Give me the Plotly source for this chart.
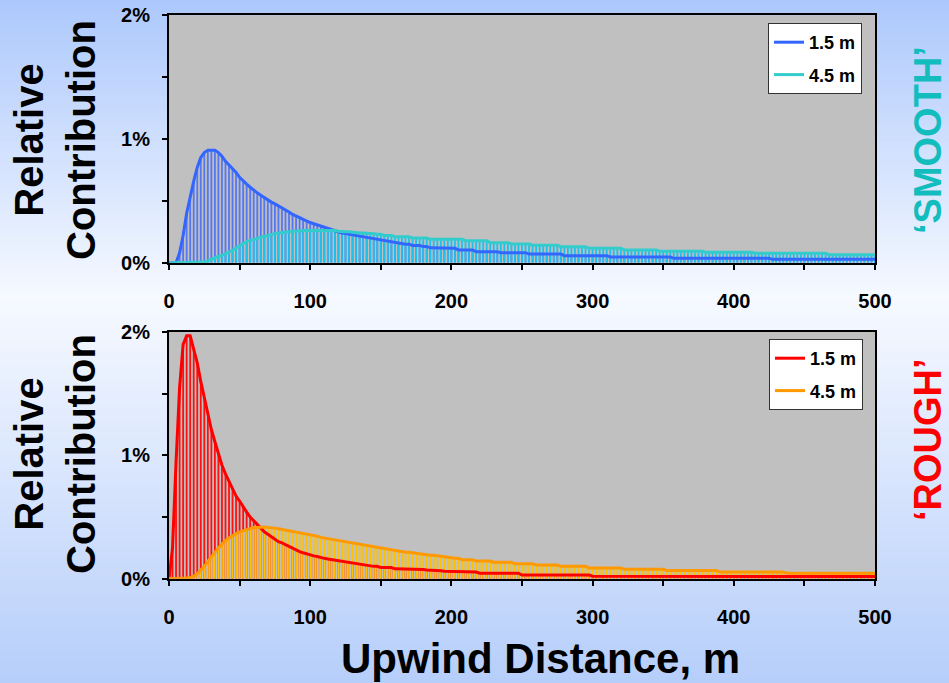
import plotly.graph_objects as go

# ---------------- data (relative contribution, % per 2.5 m bin) ----------------
DIST = [round(i * 2.5, 1) for i in range(201)]

SMOOTH_15 = [
    0, 0, 0, 0.08, 0.22, 0.40, 0.54, 0.66, 0.77, 0.85,
    0.89, 0.91, 0.91, 0.91, 0.89, 0.86, 0.82, 0.79, 0.76, 0.73,
    0.69, 0.66, 0.635, 0.61, 0.585, 0.565, 0.545, 0.525, 0.505, 0.49,
    0.475, 0.46, 0.44, 0.425, 0.41, 0.39, 0.38, 0.365, 0.35, 0.335,
    0.325, 0.315, 0.305, 0.295, 0.285, 0.275, 0.265, 0.255, 0.25, 0.24,
    0.235, 0.23, 0.22, 0.215, 0.21, 0.205, 0.20, 0.195, 0.19, 0.19,
    0.18, 0.18, 0.17, 0.17, 0.16, 0.16, 0.15, 0.15, 0.15, 0.14,
    0.14, 0.14, 0.13, 0.13, 0.12, 0.12, 0.12, 0.12, 0.116, 0.116,
    0.116, 0.116, 0.103, 0.103, 0.103, 0.103, 0.103, 0.089, 0.089, 0.089,
    0.089, 0.089, 0.089, 0.089, 0.081, 0.081, 0.081, 0.081, 0.081, 0.081,
    0.081, 0.081, 0.07, 0.07, 0.07, 0.07, 0.07, 0.07, 0.07, 0.07,
    0.07, 0.07, 0.057, 0.057, 0.057, 0.057, 0.057, 0.057, 0.057, 0.057,
    0.057, 0.057, 0.057, 0.057, 0.057, 0.046, 0.046, 0.046, 0.046, 0.046,
    0.046, 0.046, 0.046, 0.046, 0.046, 0.046, 0.046, 0.046, 0.046, 0.046,
    0.046, 0.046, 0.046, 0.035, 0.035, 0.035, 0.035, 0.035, 0.035, 0.035,
    0.035, 0.035, 0.035, 0.035, 0.035, 0.035, 0.035, 0.035, 0.035, 0.035,
    0.035, 0.035, 0.035, 0.035, 0.035, 0.035, 0.035, 0.035, 0.035, 0.035,
    0.035, 0.027, 0.027, 0.027, 0.027, 0.027, 0.027, 0.027, 0.027, 0.027,
    0.027, 0.027, 0.027, 0.027, 0.027, 0.027, 0.027, 0.027, 0.027, 0.027,
    0.027, 0.027, 0.027, 0.027, 0.027, 0.027, 0.027, 0.027, 0.027, 0.027,
    0.027,
]

SMOOTH_45 = [
    0, 0, 0, 0, 0, 0, 0, 0, 0, 0,
    0.005, 0.015, 0.03, 0.04, 0.05, 0.06, 0.07, 0.085, 0.10, 0.12,
    0.14, 0.155, 0.17, 0.18, 0.19, 0.20, 0.205, 0.215, 0.22, 0.23,
    0.235, 0.24, 0.245, 0.25, 0.25, 0.255, 0.255, 0.26, 0.26, 0.26,
    0.26, 0.265, 0.265, 0.265, 0.265, 0.265, 0.26, 0.26, 0.255, 0.25,
    0.25, 0.25, 0.245, 0.245, 0.24, 0.24, 0.24, 0.235, 0.235, 0.23,
    0.23, 0.22, 0.22, 0.22, 0.21, 0.21, 0.21, 0.21, 0.21, 0.20,
    0.20, 0.20, 0.20, 0.20, 0.19, 0.19, 0.19, 0.19, 0.19, 0.19,
    0.189, 0.189, 0.189, 0.189, 0.178, 0.178, 0.178, 0.178, 0.178, 0.178,
    0.178, 0.162, 0.162, 0.162, 0.162, 0.162, 0.162, 0.151, 0.151, 0.151,
    0.151, 0.151, 0.151, 0.141, 0.141, 0.141, 0.141, 0.141, 0.141, 0.141,
    0.141, 0.129, 0.129, 0.129, 0.129, 0.129, 0.129, 0.129, 0.129, 0.116,
    0.116, 0.116, 0.116, 0.116, 0.116, 0.116, 0.116, 0.116, 0.116, 0.103,
    0.103, 0.103, 0.103, 0.103, 0.103, 0.103, 0.103, 0.103, 0.103, 0.092,
    0.092, 0.092, 0.092, 0.092, 0.092, 0.092, 0.092, 0.092, 0.092, 0.092,
    0.092, 0.092, 0.084, 0.084, 0.084, 0.084, 0.084, 0.084, 0.084, 0.084,
    0.084, 0.084, 0.084, 0.084, 0.084, 0.084, 0.076, 0.076, 0.076, 0.076,
    0.076, 0.076, 0.076, 0.076, 0.076, 0.076, 0.076, 0.076, 0.076, 0.076,
    0.076, 0.076, 0.076, 0.076, 0.076, 0.076, 0.076, 0.065, 0.065, 0.065,
    0.065, 0.065, 0.065, 0.065, 0.065, 0.065, 0.065, 0.065, 0.065, 0.065,
    0.065,
]

ROUGH_15 = [
    0, 0.25, 0.95, 1.55, 1.90, 1.97, 1.97, 1.86, 1.75, 1.60,
    1.46, 1.34, 1.21, 1.11, 1.01, 0.92, 0.85, 0.79, 0.73, 0.67,
    0.63, 0.58, 0.54, 0.50, 0.47, 0.44, 0.41, 0.38, 0.36, 0.34,
    0.32, 0.30, 0.29, 0.275, 0.26, 0.245, 0.23, 0.22, 0.21, 0.20,
    0.19, 0.185, 0.18, 0.17, 0.165, 0.16, 0.155, 0.15, 0.145, 0.14,
    0.135, 0.13, 0.125, 0.12, 0.115, 0.11, 0.11, 0.105, 0.10, 0.10,
    0.09, 0.09, 0.09, 0.09, 0.08, 0.08, 0.08, 0.08, 0.08, 0.08,
    0.08, 0.08, 0.075, 0.07, 0.07, 0.07, 0.07, 0.065, 0.06, 0.06,
    0.057, 0.054, 0.054, 0.054, 0.054, 0.054, 0.054, 0.054, 0.044, 0.044,
    0.044, 0.044, 0.044, 0.044, 0.044, 0.044, 0.044, 0.044, 0.044, 0.044,
    0.03, 0.03, 0.03, 0.03, 0.03, 0.03, 0.03, 0.03, 0.03, 0.03,
    0.03, 0.03, 0.03, 0.03, 0.03, 0.03, 0.03, 0.03, 0.03, 0.03,
    0.02, 0.02, 0.02, 0.02, 0.02, 0.02, 0.02, 0.02, 0.02, 0.02,
    0.02, 0.02, 0.02, 0.02, 0.02, 0.02, 0.02, 0.02, 0.02, 0.02,
    0.02, 0.02, 0.02, 0.02, 0.02, 0.02, 0.02, 0.02, 0.02, 0.02,
    0.02, 0.02, 0.02, 0.02, 0.02, 0.02, 0.02, 0.02, 0.02, 0.02,
    0.02, 0.02, 0.02, 0.02, 0.02, 0.02, 0.02, 0.02, 0.02, 0.02,
    0.02, 0.02, 0.02, 0.02, 0.02, 0.02, 0.02, 0.02, 0.02, 0.02,
    0.018, 0.018, 0.018, 0.018, 0.018, 0.018, 0.018, 0.018, 0.018, 0.018,
    0.018, 0.018, 0.018, 0.018, 0.018, 0.018, 0.018, 0.018, 0.018, 0.018,
    0.018,
]

ROUGH_45 = [
    0, 0, 0, 0, 0, 0.005, 0.01, 0.02, 0.04, 0.07,
    0.10, 0.14, 0.18, 0.22, 0.25, 0.28, 0.31, 0.33, 0.35, 0.365,
    0.38, 0.39, 0.40, 0.41, 0.415, 0.415, 0.42, 0.42, 0.415, 0.415,
    0.41, 0.405, 0.40, 0.395, 0.39, 0.385, 0.38, 0.375, 0.37, 0.365,
    0.36, 0.35, 0.345, 0.335, 0.33, 0.325, 0.32, 0.315, 0.31, 0.305,
    0.30, 0.295, 0.29, 0.285, 0.28, 0.27, 0.265, 0.26, 0.255, 0.25,
    0.245, 0.24, 0.235, 0.235, 0.23, 0.225, 0.22, 0.215, 0.215, 0.21,
    0.205, 0.20, 0.20, 0.195, 0.19, 0.19, 0.185, 0.18, 0.18, 0.175,
    0.165, 0.165, 0.165, 0.154, 0.154, 0.154, 0.154, 0.143, 0.143, 0.143,
    0.143, 0.143, 0.133, 0.133, 0.133, 0.133, 0.133, 0.133, 0.122, 0.122,
    0.122, 0.122, 0.122, 0.122, 0.111, 0.111, 0.111, 0.111, 0.111, 0.111,
    0.111, 0.10, 0.10, 0.10, 0.10, 0.10, 0.10, 0.10, 0.10, 0.087,
    0.087, 0.087, 0.087, 0.087, 0.087, 0.087, 0.087, 0.087, 0.087, 0.076,
    0.076, 0.076, 0.076, 0.076, 0.076, 0.076, 0.076, 0.076, 0.076, 0.076,
    0.076, 0.067, 0.067, 0.067, 0.067, 0.067, 0.067, 0.067, 0.067, 0.067,
    0.067, 0.067, 0.067, 0.067, 0.067, 0.067, 0.054, 0.054, 0.054, 0.054,
    0.054, 0.054, 0.054, 0.054, 0.054, 0.054, 0.054, 0.054, 0.054, 0.054,
    0.054, 0.054, 0.054, 0.054, 0.054, 0.044, 0.044, 0.044, 0.044, 0.044,
    0.044, 0.044, 0.044, 0.044, 0.044, 0.044, 0.044, 0.044, 0.044, 0.044,
    0.044, 0.044, 0.044, 0.044, 0.044, 0.044, 0.044, 0.044, 0.044, 0.044,
    0.044,
]

SERIES_NAMES = ["1.5 m", "4.5 m"]
X_TICKVALS = [0, 50, 100, 150, 200, 250, 300, 350, 400, 450, 500]
X_TICKTEXT = ["0", "", "100", "", "200", "", "300", "", "400", "", "500"]
Y_TICKVALS = [0, 0.5, 1, 1.5, 2]
Y_TICKTEXT = ["0%", "", "1%", "", "2%"]

# ---------------- styling ----------------
W, H = 949, 683
FONT = "Arial, 'Liberation Sans', sans-serif"
PX0, PX1 = 169, 875
TOP_DOM = [1 - 262.7 / H, 1 - 15.3 / H]
BOT_DOM = [1 - 578.7 / H, 1 - 332 / H]

fig = go.Figure()


def drops(y, color, xa, ya):
    return go.Scatter(
        x=DIST, y=y, mode="markers",
        marker=dict(size=0, color="rgba(0,0,0,0)"),
        showlegend=False, hoverinfo="skip", xaxis=xa, yaxis=ya,
        error_y=dict(type="data", symmetric=False, array=[0] * len(y),
                     arrayminus=y, width=0, thickness=1.8, color=color),
    )


def curve(y, color, name, xa, ya, legend, group):
    return go.Scatter(
        x=DIST, y=y, mode="lines", name=name,
        line=dict(color=color, width=3), xaxis=xa, yaxis=ya,
        legend=legend, legendgroup=group,
    )


# top panel ('SMOOTH')
fig.add_trace(drops(SMOOTH_15, "#5577f2", "x", "y"))
fig.add_trace(drops(SMOOTH_45, "#1ec0ec", "x", "y"))
fig.add_trace(curve(SMOOTH_15, "#3366ff", SERIES_NAMES[0], "x", "y", "legend", "a"))
fig.add_trace(curve(SMOOTH_45, "#33cccc", SERIES_NAMES[1], "x", "y", "legend", "b"))
# bottom panel ('ROUGH')
fig.add_trace(drops(ROUGH_15, "#ff1010", "x2", "y2"))
fig.add_trace(drops(ROUGH_45, "#ffc000", "x2", "y2"))
fig.add_trace(curve(ROUGH_15, "#ff0000", SERIES_NAMES[0], "x2", "y2", "legend2", "c"))
fig.add_trace(curve(ROUGH_45, "#ff9900", SERIES_NAMES[1], "x2", "y2", "legend2", "d"))

axis_common = dict(
    showgrid=False, zeroline=False, showline=True, linecolor="black",
    linewidth=2, mirror=True, ticks="outside", ticklen=5, tickwidth=2,
    tickcolor="black",
    tickfont=dict(family=FONT, size=20, color="black", weight="bold"),
)
xdom = [PX0 / W, PX1 / W]
fig.update_layout(
    xaxis=dict(domain=xdom, anchor="y", range=[0, 500], tickvals=X_TICKVALS,
               ticktext=X_TICKTEXT, ticklabelstandoff=14, **axis_common),
    yaxis=dict(domain=TOP_DOM, anchor="x", range=[0, 2], tickvals=Y_TICKVALS,
               ticktext=Y_TICKTEXT, ticklabelstandoff=8, **axis_common),
    xaxis2=dict(domain=xdom, anchor="y2", range=[0, 500], tickvals=X_TICKVALS,
                ticktext=X_TICKTEXT, ticklabelstandoff=14, **axis_common),
    yaxis2=dict(domain=BOT_DOM, anchor="x2", range=[0, 2], tickvals=Y_TICKVALS,
                ticktext=Y_TICKTEXT, ticklabelstandoff=8, **axis_common),
)

legend_common = dict(
    xanchor="right", yanchor="top", bgcolor="white", bordercolor="#333",
    borderwidth=1, tracegroupgap=6,
    font=dict(family=FONT, size=18, color="black", weight="bold"),
)
fig.update_layout(
    legend=dict(x=862 / W, y=1 - 23 / H, **legend_common),
    legend2=dict(x=863 / W, y=1 - 339 / H, **legend_common),
)

# background gradient (paper) + grey plot areas
stops = [(0, (172, 200, 252)), (300, (246, 249, 255)), (683, (182, 206, 250))]


def grad(yp):
    for (a, ca), (b, cb) in zip(stops[:-1], stops[1:]):
        if a <= yp <= b:
            t = (yp - a) / (b - a)
            return tuple(round(ca[k] + (cb[k] - ca[k]) * t) for k in range(3))
    return stops[-1][1]


shapes = []
NSTRIP = 120
for i in range(NSTRIP):
    y0 = H * i / NSTRIP
    y1 = H * (i + 1) / NSTRIP
    c = grad((y0 + y1) / 2)
    shapes.append(dict(type="rect", xref="paper", yref="paper", x0=0, x1=1,
                       y0=1 - y1 / H - 0.001, y1=1 - y0 / H + 0.001,
                       fillcolor="rgb(%d,%d,%d)" % c, line=dict(width=0),
                       layer="below"))
for xr, yr in (("x domain", "y domain"), ("x2 domain", "y2 domain")):
    shapes.append(dict(type="rect", xref=xr, yref=yr, x0=0, x1=1, y0=0, y1=1,
                       fillcolor="#c0c0c0", line=dict(width=0), layer="below"))

title_font = dict(family=FONT, size=40, color="black", weight="bold")
annotations = [
    dict(text="Relative<br>Contribution", x=55 / W, y=1 - 140 / H,
         xref="paper", yref="paper", showarrow=False, textangle=-90,
         xanchor="center", yanchor="middle", font=title_font),
    dict(text="Relative<br>Contribution", x=55 / W, y=1 - 454 / H,
         xref="paper", yref="paper", showarrow=False, textangle=-90,
         xanchor="center", yanchor="middle", font=title_font),
    dict(text="Upwind Distance, m", x=540 / W, y=1 - 658 / H,
         xref="paper", yref="paper", showarrow=False,
         xanchor="center", yanchor="middle",
         font=dict(family=FONT, size=42, color="black", weight="bold")),
    dict(text="\u2018SMOOTH\u2019", x=928 / W, y=1 - 140 / H,
         xref="paper", yref="paper", showarrow=False, textangle=-90,
         xanchor="center", yanchor="middle",
         font=dict(family=FONT, size=38, color="#14bdbd", weight="bold")),
    dict(text="\u2018ROUGH\u2019", x=928 / W, y=1 - 440 / H,
         xref="paper", yref="paper", showarrow=False, textangle=-90,
         xanchor="center", yanchor="middle",
         font=dict(family=FONT, size=38, color="#ff0000", weight="bold")),
]

fig.update_layout(
    width=W, height=H, margin=dict(l=0, r=0, t=0, b=0, autoexpand=False),
    paper_bgcolor="rgb(246,249,255)", plot_bgcolor="rgba(0,0,0,0)",
    shapes=shapes, annotations=annotations, font=dict(family=FONT),
)

fig.write_html(
    "out.html",
    config={"displayModeBar": False},
    post_script="document.body.style.margin='0';"
                "document.body.style.padding='0';"
                "document.body.style.overflow='hidden';",
)
